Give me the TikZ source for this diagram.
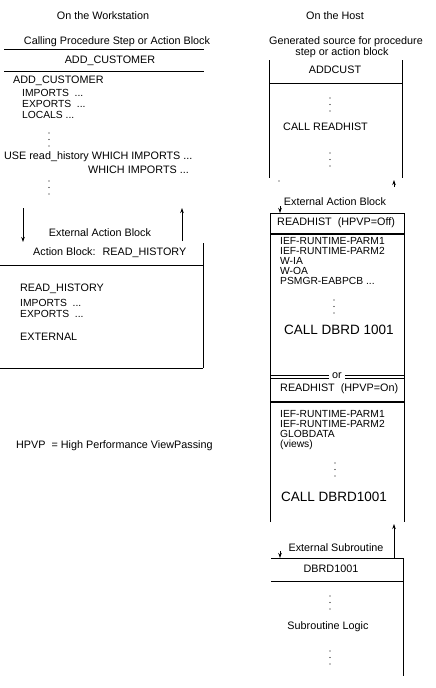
\documentclass[tikz,border=0pt]{standalone}
\usepackage{fontspec}
\setmainfont{Liberation Sans}
\usetikzlibrary{arrows.meta}
\begin{document}
\begin{tikzpicture}[x=1pt,y=-1pt,
  txt/.style={inner sep=0pt, anchor=west, font=\fontsize{10.8}{12}\selectfont},
  lst/.style={inner sep=0pt, anchor=west, font=\fontsize{10.3}{11}\selectfont},
  ctxt/.style={inner sep=0pt, anchor=center, font=\fontsize{10.8}{12}\selectfont},
  bigtxt/.style={inner sep=0pt, anchor=west, font=\fontsize{13.5}{15}\selectfont},
  ln/.style={line width=0.8pt, black},
  thick line/.style={line width=2pt, black},
  arr/.style={line width=0.8pt, -{Stealth[length=5pt,width=3.5pt]}},
  pics/vdots/.style={code={\fill (0,0) circle (0.7); \fill (0,6.5) circle (0.7); \fill (0,13) circle (0.7);}}
]
\useasboundingbox (0,0) rectangle (436,688);
\fill[white] (0,0) rectangle (436,688);

% ---------- headings ----------
\node[ctxt] (hws) at (103,16) {On the Workstation};
\node[ctxt] (hhost) at (335,16) {On the Host};

% ---------- workstation: calling block ----------
\node[ctxt] (callhdr) at (117,42) {Calling Procedure Step or Action Block};
\draw[ln] (4,49) -- (204,49);
\node[ctxt] (addc) at (110,61) {ADD\_CUSTOMER};
\draw[ln] (4,71) -- (204,71);
\node[txt] (addc2) at (13,81) {ADD\_CUSTOMER};
\node[lst] (imp1) at (22,93) {IMPORTS \ ...};
\node[lst] (exp1) at (22,104) {EXPORTS \ ...};
\node[lst] (loc1) at (22,114.5) {LOCALS ...};
\pic at (49,133) {vdots};
\node[txt] (use) at (4,157) {USE read\_history WHICH IMPORTS ...};
\node[txt] (which) at (88,170) {WHICH IMPORTS ...};
\pic at (49,181) {vdots};

% arrows between workstation blocks
\coordinate (ad1) at (23,208);
\coordinate (ad2) at (23,242);
\coordinate (au1) at (182,241);
\coordinate (au2) at (182,208);
\draw[arr] (ad1) -- (ad2);
\draw[arr] (au1) -- (au2);

% ---------- workstation: external action block ----------
\node[ctxt] (eab1) at (100,233) {External Action Block};
\draw[ln] (203,243) -- (203,368);
\node[txt] (abrh) at (33,253) {Action Block: \ READ\_HISTORY};
\draw[ln] (0,265) -- (203,265);
\node[txt] (rh) at (20,289) {READ\_HISTORY};
\node[lst] (imp2) at (20,303) {IMPORTS \ ...};
\node[lst] (exp2) at (20,314) {EXPORTS \ ...};
\node[txt] (ext) at (20,337) {EXTERNAL};
\draw[ln] (0,368) -- (203,368);

\node[txt] (hpvp) at (16,446) {HPVP \ = High Performance ViewPassing};

% ---------- host: generated source ----------
\node[ctxt] (gen1) at (346,42) {Generated source for procedure};
\node[ctxt] (gen2) at (342,53) {step or action block};
\draw[ln] (269,60) -- (269,178);
\draw[ln] (402,60) -- (402,178);
\node[ctxt] (addcust) at (335,70) {ADDCUST};
\draw[ln] (269,83) -- (402,83);
\pic at (330,98) {vdots};
\node[txt] (callrh) at (283,127) {CALL READHIST};
\pic at (330,153) {vdots};
\coordinate (ha1) at (394,187);
\coordinate (ha2) at (394,180);
\draw[arr] (ha1) -- (ha2);
\fill (279,181) circle (0.6);

% ---------- host: external action block ----------
\node[ctxt] (eab2) at (335,202) {External Action Block};
\coordinate (hd1) at (280,206);
\coordinate (hd2) at (280,213);
\draw[arr] (hd1) -- (hd2);
\draw[ln] (270,522) -- (270,213) -- (404,213) -- (404,522);
\node[txt] (rhoff) at (277,223) {READHIST \ (HPVP=Off)};
\draw[thick line] (270,234) -- (404,234);
\node[lst] (p1) at (280,241) {IEF-RUNTIME-PARM1};
\node[lst] (p2) at (280,251) {IEF-RUNTIME-PARM2};
\node[lst] (wia) at (280,261) {W-IA};
\node[lst] (woa) at (280,271) {W-OA};
\node[lst] (psm) at (280,281) {PSMGR-EABPCB ...};
\pic at (334,300) {vdots};
\node[bigtxt] (call1) at (284,330) {CALL DBRD 1001};
\draw[ln] (270,375) -- (404,375);
\draw[ln] (270,378) -- (404,378);
\node[ctxt, fill=white, inner xsep=3pt] (or) at (337,376) {or};
\node[txt] (rhon) at (280,389) {READHIST \ (HPVP=On)};
\draw[thick line] (270,402) -- (404,402);
\node[lst] (q1) at (280,414) {IEF-RUNTIME-PARM1};
\node[lst] (q2) at (280,424) {IEF-RUNTIME-PARM2};
\node[lst] (glob) at (280,434) {GLOBDATA};
\node[lst] (views) at (280,445) {(views)};
\pic at (335,463) {vdots};
\node[bigtxt] (call2) at (281,497) {CALL DBRD1001};

% ---------- host: external subroutine ----------
\coordinate (su1) at (394,558);
\coordinate (su2) at (394,524);
\draw[arr] (su1) -- (su2);
\node[ctxt] (esub) at (336,548) {External Subroutine};
\coordinate (sd1) at (280,551);
\coordinate (sd2) at (280,558);
\draw[arr] (sd1) -- (sd2);
\draw[ln] (271,558) -- (403,558) -- (403,676);
\node[ctxt] (dbrd) at (331,569) {DBRD1001};
\draw[ln] (271,581) -- (403,581);
\pic at (330,596) {vdots};
\node[ctxt] (sublog) at (328,627) {Subroutine Logic};
\pic at (330,651) {vdots};
\end{tikzpicture}
\end{document}
